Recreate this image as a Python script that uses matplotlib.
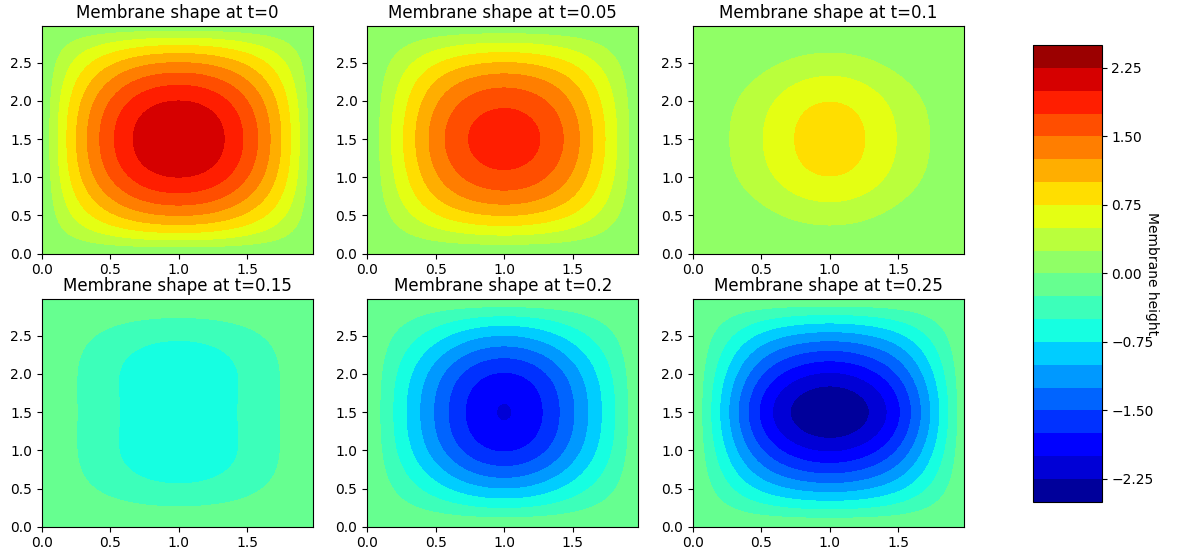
import numpy as np
import matplotlib
matplotlib.use('Agg')
import matplotlib.pyplot as plt

# snapshot times, one per panel
times = [0, 0.05, 0.1, 0.15, 0.2, 0.25]

# standing-wave modes (m, n) of the 2 x 3 membrane
modes = [(1, 1), (1, 3), (3, 1), (3, 3), (1, 5), (5, 1), (1, 7), (7, 1)]

# height of every mode in each snapshot (estimated from the panels)
heights_t0 = [2.3965, 0.0888, 0.0888, 0.0033, 0.0192, 0.0192, 0.0070, 0.0070]
heights_t005 = [1.9388, 0.0347, -0.0032, -0.0010, -0.0047, -0.0168, -0.0056, -0.0060]
heights_t01 = [0.7406, -0.0616, -0.0885, -0.0027, -0.0169, 0.0102, 0.0019, 0.0034]
heights_t015 = [-0.7406, -0.0829, 0.0095, 0.0027, 0.0130, -0.0011, 0.0025, 0.0002]
heights_t02 = [-1.9388, -0.0032, 0.0879, 0.0010, 0.0104, -0.0083, -0.0059, -0.0038]
heights_t025 = [-2.3965, 0.0804, -0.0158, -0.0033, -0.0182, 0.0156, 0.0070, 0.0062]
snapshots = [heights_t0, heights_t005, heights_t01, heights_t015, heights_t02, heights_t025]

# membrane size and grid
Lx, Ly = 2.0, 3.0
x = np.arange(0, Lx, 0.02)
y = np.arange(0, Ly, 0.02)
X, Y = np.meshgrid(x, y)

levels = np.linspace(-2.5, 2.5, 21)

fig, axes = plt.subplots(2, 3, figsize=(11.84, 5.57), dpi=100)
fig.subplots_adjust(left=0.0352, right=0.8142, bottom=0.0544, top=0.9533,
                    wspace=0.2, hspace=0.2)

for ax, t, heights in zip(axes.flat, times, snapshots):
    Z = np.zeros_like(X)
    for (m, n), h in zip(modes, heights):
        Z += h * np.sin(m * np.pi * X / Lx) * np.sin(n * np.pi * Y / Ly)
    cs = ax.contourf(X, Y, Z, levels=levels, cmap='jet')
    ax.set_title(f'Membrane shape at t={t}')

# one shared colour bar on the right
cax = fig.add_axes([0.8722, 0.0993, 0.0583, 0.8199])
cbar = fig.colorbar(cs, cax=cax)
cbar.set_label('Membrane height', rotation=270)

plt.savefig('out.png', dpi=100)
